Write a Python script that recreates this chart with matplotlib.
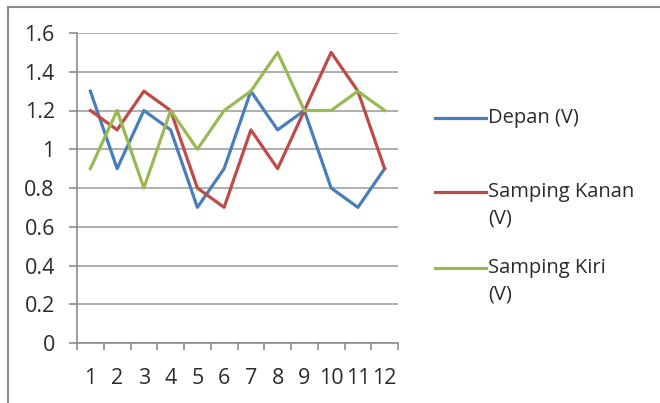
import matplotlib.pyplot as plt
from matplotlib.lines import Line2D
from matplotlib.patches import Rectangle

# Voltage readings per sample
samples = list(range(1, 13))
depan = [1.3, 0.9, 1.2, 1.1, 0.7, 0.9, 1.3, 1.1, 1.2, 0.8, 0.7, 0.9]
samping_kanan = [1.2, 1.1, 1.3, 1.2, 0.8, 0.7, 1.1, 0.9, 1.2, 1.5, 1.3, 0.9]
samping_kiri = [0.9, 1.2, 0.8, 1.2, 1.0, 1.2, 1.3, 1.5, 1.2, 1.2, 1.3, 1.2]
y_ticks = [0, 0.2, 0.4, 0.6, 0.8, 1, 1.2, 1.4, 1.6]
y_labels = ["0", "0.2", "0.4", "0.6", "0.8", "1", "1.2", "1.4", "1.6"]
series_names = ["Depan (V)", "Samping Kanan\n(V)", "Samping Kiri\n(V)"]
series_colors = ['#4A7EBB', '#BE4B48', '#98B954']

plt.rcParams['font.family'] = ['Open Sans', 'DejaVu Sans']
text_color = '#2b2b2b'

fig = plt.figure(figsize=(6.6, 4.03), dpi=100)
fig.patches.append(Rectangle((8 / 660, -0.05), 1.0, 1 - 7 / 403 + 0.05,
                             transform=fig.transFigure, fill=False,
                             edgecolor='#8c8c8c', linewidth=1.5))

ax = fig.add_axes([77 / 660, 1 - 343 / 403, 321 / 660, 310 / 403])

for values, color in zip([depan, samping_kanan, samping_kiri], series_colors):
    ax.plot(samples, values, color=color, linewidth=2.3)

ax.set_xlim(0.5, 12.5)
ax.set_ylim(0, 1.6)
ax.set_yticks(y_ticks)
ax.set_yticklabels(y_labels)
ax.set_xticks(samples)
ax.set_xticks([i + 0.5 for i in range(0, 13)], minor=True)
ax.tick_params(axis='x', which='major', length=0, pad=18, labelsize=15.5, colors=text_color)
ax.tick_params(axis='x', which='minor', length=5, width=1.2, color='#8c8c8c', direction='out')
ax.tick_params(axis='y', length=6, width=1.2, color='#8c8c8c', pad=10, labelsize=15.5, labelcolor=text_color)

ax.grid(axis='y', color='#a8a8a8', linewidth=1.3)
ax.set_axisbelow(True)
for side in ['top', 'right']:
    ax.spines[side].set_visible(False)
for side in ['left', 'bottom']:
    ax.spines[side].set_color('#8c8c8c')
    ax.spines[side].set_linewidth(1.2)

# Legend entries: key line next to the first line of each label
legend_rows = [118, 192, 268]
for name, color, row in zip(series_names, series_colors, legend_rows):
    y = 1 - row / 403
    fig.add_artist(Line2D([435 / 660, 486 / 660], [y, y], color=color,
                          linewidth=2.3, transform=fig.transFigure))
    fig.text(488 / 660, y + 10 / 403, name, ha='left', va='top', fontsize=14.5,
             color=text_color, linespacing=1.45)

fig.savefig('out.png', dpi=100)
